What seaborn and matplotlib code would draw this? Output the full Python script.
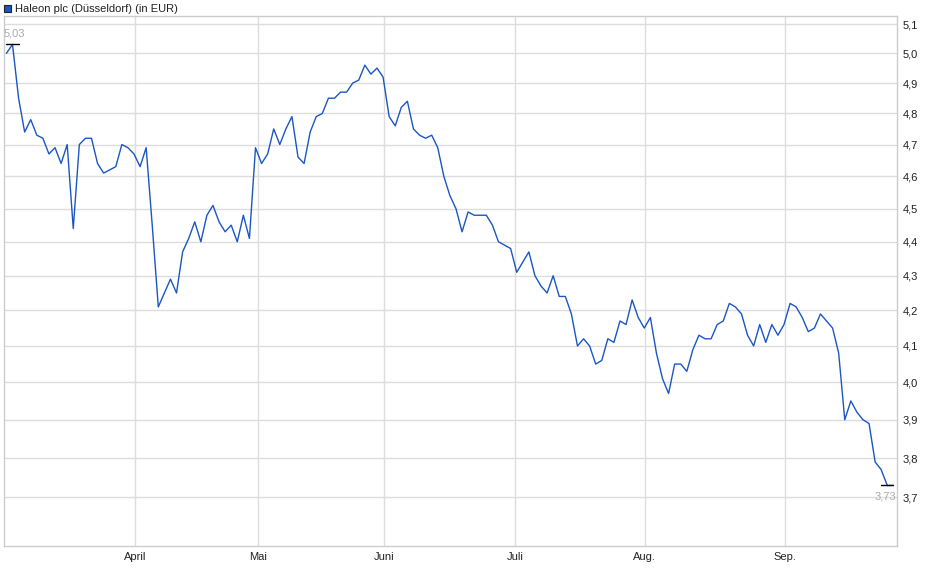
import numpy as np
import pandas as pd
import seaborn as sns
import matplotlib
matplotlib.use("Agg")
import matplotlib.pyplot as plt
from matplotlib.ticker import FixedLocator, NullLocator

prices = [5.00, 5.03, 4.85, 4.74, 4.78, 4.73, 4.72, 4.67, 4.69, 4.64, 4.70, 4.44, 4.70, 4.72, 4.72,
          4.64, 4.61, 4.62, 4.63, 4.70, 4.69, 4.67, 4.63, 4.69, 4.45, 4.21, 4.25, 4.29, 4.25, 4.37,
          4.41, 4.46, 4.40, 4.48, 4.51, 4.46, 4.43, 4.45, 4.40, 4.48, 4.41, 4.69, 4.64, 4.67, 4.75,
          4.70, 4.75, 4.79, 4.66, 4.64, 4.74, 4.79, 4.80, 4.85, 4.85, 4.87, 4.87, 4.90, 4.91, 4.96,
          4.93, 4.95, 4.92, 4.79, 4.76, 4.82, 4.84, 4.75, 4.73, 4.72, 4.73, 4.69, 4.60, 4.54, 4.50,
          4.43, 4.49, 4.48, 4.48, 4.48, 4.45, 4.40, 4.39, 4.38, 4.31, 4.34, 4.37, 4.30, 4.27, 4.25,
          4.30, 4.24, 4.24, 4.19, 4.10, 4.12, 4.10, 4.05, 4.06, 4.12, 4.11, 4.17, 4.16, 4.23, 4.18,
          4.15, 4.18, 4.08, 4.01, 3.97, 4.05, 4.05, 4.03, 4.09, 4.13, 4.12, 4.12, 4.16, 4.17, 4.22,
          4.21, 4.19, 4.13, 4.10, 4.16, 4.11, 4.16, 4.13, 4.16, 4.22, 4.21, 4.18, 4.14, 4.15, 4.19,
          4.17, 4.15, 4.08, 3.90, 3.95, 3.92, 3.90, 3.89, 3.79, 3.77, 3.73, 3.73]
month_labels = ["April", "Mai", "Juni", "Juli", "Aug.", "Sep."]
month_idx = [21.2, 41.4, 62.2, 83.7, 105.1, 128.2]
y_ticks = [3.7, 3.8, 3.9, 4.0, 4.1, 4.2, 4.3, 4.4, 4.5, 4.6, 4.7, 4.8, 4.9, 5.0, 5.1]

df = pd.DataFrame({"t": np.arange(len(prices)), "price": prices})

sns.set_theme(style="white")
plt.rcParams['font.family'] = ['Liberation Sans', 'DejaVu Sans']
fig = plt.figure(figsize=(9.40, 5.79), dpi=100)
ax = fig.add_axes([4/940, 1-546/579, (897-4)/940, (546-16)/579])
sns.lineplot(data=df, x="t", y="price", ax=ax, color="#1a56c4", linewidth=1.0)
ax.set_yscale("log")
ax.set_ylim(3.58, 5.128)
ax.set_xlim(-0.4, len(prices) - 1 + 0.6)
ax.yaxis.set_major_locator(FixedLocator(y_ticks))
ax.yaxis.set_minor_locator(NullLocator())
ax.set_yticklabels([f"{v:.1f}".replace(".", ",") for v in y_ticks])
ax.yaxis.tick_right()
ax.set_xticks(month_idx)
ax.set_xticklabels(month_labels)
ax.tick_params(axis="both", labelsize=8, colors="#222222", length=0, pad=4)
ax.grid(True, color="#dddddd", linewidth=1)
ax.set_xlabel(""); ax.set_ylabel("")
for s in ax.spines.values():
    s.set_color("#cccccc")
    s.set_linewidth(1)

imax = int(np.argmax(prices)); imin = len(prices) - 2
ax.plot([imax - 1, imax + 1], [prices[imax]] * 2, color="black", lw=1)
ax.text(imax + 0.3, prices[imax] * 1.004, f"{prices[imax]:.2f}".replace(".", ","), color="#aaaaaa",
        fontsize=8, ha="center", va="bottom")
ax.plot([imin - 1, imin + 1], [prices[imin]] * 2, color="black", lw=1)
ax.text(imin - 0.3, prices[imin] * 0.996, f"{prices[imin]:.2f}".replace(".", ","), color="#aaaaaa",
        fontsize=8, ha="center", va="top")

fig.patches.append(plt.Rectangle((4/940, 1-12/579), 7/940, 7/579, transform=fig.transFigure,
                                 facecolor="#1a56c4", edgecolor="#222222", lw=0.8))
fig.text(15/940, 1-8.5/579, "Haleon plc (Düsseldorf) (in EUR)", fontsize=8, va="center", color="#222222")
fig.savefig("out.png", dpi=100)
